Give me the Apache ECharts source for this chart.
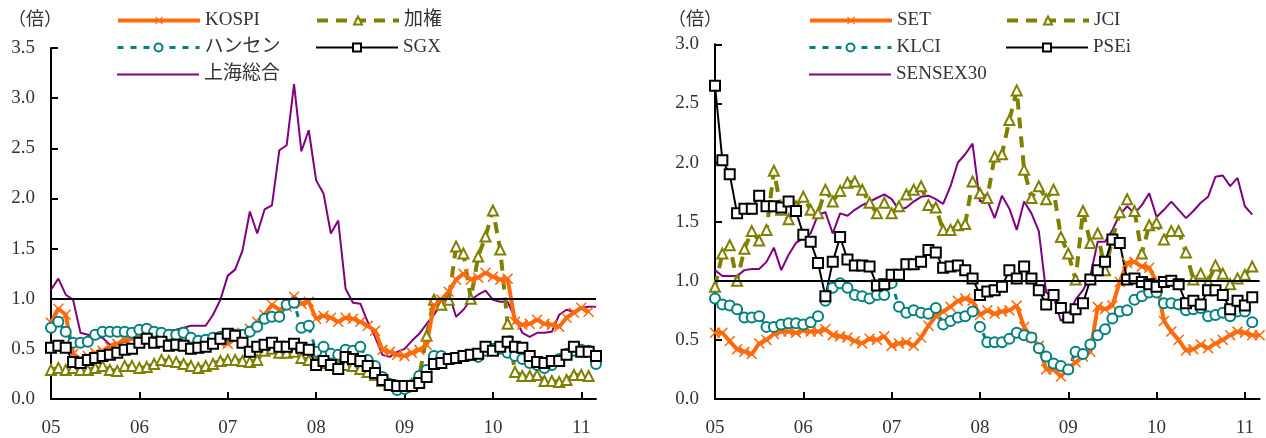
<!DOCTYPE html>
<html>
<head>
<meta charset="utf-8">
<script src="https://cdn.jsdelivr.net/npm/echarts@6/dist/echarts.min.js"></script>
<style>
html, body { margin: 0; padding: 0; background: #fff; }
#container { width: 1266px; height: 438px; }
</style>
</head>
<body>
<div id="container"></div>
<script>
const container = document.getElementById('container');
const chartIns = echarts.init(container, undefined, { renderer: 'canvas' });

// 月次カテゴリ 2005/01 - 2011/03
const months = [];
for (let i = 0; i < 75; i++) {
  const y = 2005 + Math.floor(i / 12);
  const m = (i % 12) + 1;
  months.push(y + '-' + (m < 10 ? '0' + m : m));
}

// 左パネル（倍）
const kospi = [0.76,0.90,0.84,0.45,0.40,0.43,0.46,0.48,0.52,0.55,0.59,0.60,0.62,0.64,0.66,0.64,0.62,0.60,0.58,0.57,0.56,0.55,0.55,0.56,0.55,0.60,0.66,0.70,0.77,0.84,0.94,0.89,0.92,1.02,0.95,0.97,0.80,0.83,0.81,0.77,0.81,0.80,0.77,0.73,0.68,0.49,0.47,0.44,0.43,0.46,0.49,0.54,0.94,0.99,1.07,1.19,1.25,1.19,1.21,1.26,1.22,1.19,1.20,0.77,0.74,0.75,0.79,0.75,0.74,0.72,0.81,0.86,0.91,0.87,null];
const taiex = [0.29,0.31,0.29,0.31,0.29,0.29,0.31,0.33,0.29,0.28,0.33,0.33,0.31,0.32,0.35,0.39,0.38,0.37,0.35,0.33,0.31,0.33,0.35,0.38,0.39,0.39,0.38,0.37,0.39,0.48,0.50,0.46,0.46,0.47,0.41,0.39,0.37,0.36,0.35,0.34,0.34,0.33,0.30,0.27,0.24,0.18,0.15,0.13,0.12,0.15,0.22,0.63,0.99,0.94,0.99,1.52,1.45,1.00,1.42,1.62,1.88,1.49,0.75,0.27,0.23,0.23,0.24,0.18,0.18,0.17,0.19,0.24,0.24,0.23,null];
const hangseng = [0.71,0.77,0.67,0.56,0.56,0.57,0.64,0.67,0.67,0.67,0.67,0.66,0.69,0.70,0.67,0.66,0.64,0.64,0.66,0.61,0.58,0.59,0.61,0.62,0.63,0.64,0.64,0.67,0.72,0.80,0.82,0.82,0.94,0.96,0.71,0.73,0.47,0.52,0.45,0.44,0.49,0.48,0.52,0.39,0.33,0.22,0.15,0.09,0.10,0.14,0.23,0.29,0.43,0.43,0.40,0.41,0.43,0.44,0.42,0.48,0.50,0.50,0.46,0.43,0.40,0.36,0.34,0.31,0.34,0.40,0.45,0.48,0.49,0.48,0.35];
const sgx = [0.51,0.53,0.51,0.37,0.36,0.39,0.41,0.43,0.44,0.46,0.49,0.50,0.56,0.60,0.56,0.57,0.53,0.54,0.53,0.50,0.51,0.52,0.55,0.60,0.65,0.63,0.56,0.47,0.52,0.54,0.56,0.52,0.52,0.55,0.51,0.49,0.34,0.38,0.34,0.30,0.42,0.40,0.38,0.33,0.26,0.19,0.14,0.13,0.13,0.13,0.16,0.22,0.35,0.36,0.40,0.41,0.43,0.44,0.45,0.52,0.48,0.52,0.57,0.52,0.51,0.43,0.37,0.36,0.38,0.38,0.44,0.52,0.47,0.47,0.43];
const shanghai = [1.09,1.20,1.04,0.99,0.66,0.64,0.62,0.61,0.54,0.55,0.57,0.60,0.62,0.64,0.65,0.66,0.68,0.69,0.71,0.73,0.73,0.73,0.84,0.99,1.23,1.29,1.48,1.87,1.65,1.89,1.93,2.48,2.53,3.14,2.47,2.68,2.18,2.05,1.65,1.78,1.10,0.96,0.95,0.77,0.62,0.44,0.42,0.47,0.50,0.58,0.65,0.75,0.84,0.95,1.06,0.82,0.89,0.99,1.04,1.08,0.99,0.97,0.97,0.81,0.66,0.62,0.66,0.66,0.67,0.84,0.89,0.87,0.91,0.92,0.92];

// 右パネル（倍）
const setIdx = [0.56,0.56,0.49,0.42,0.40,0.38,0.47,0.50,0.55,0.57,0.57,0.56,0.58,0.57,0.57,0.59,0.54,0.53,0.52,0.49,0.47,0.51,0.50,0.53,0.45,0.47,0.48,0.45,0.52,0.62,0.70,0.74,0.78,0.83,0.85,0.83,0.71,0.75,0.72,0.74,0.75,0.79,0.61,0.52,0.45,0.25,0.25,0.19,0.26,0.31,0.36,0.40,0.78,0.76,0.79,0.99,1.15,1.16,1.12,1.11,0.99,0.66,0.57,0.50,0.41,0.42,0.46,0.43,0.47,0.50,0.54,0.57,0.56,0.54,0.54];
const jci = [0.95,1.23,1.30,1.00,1.27,1.42,1.34,1.43,1.93,1.60,1.52,1.63,1.71,1.60,1.57,1.77,1.67,1.76,1.83,1.84,1.77,1.66,1.57,1.66,1.57,1.63,1.73,1.77,1.80,1.64,1.62,1.43,1.43,1.47,1.48,1.84,1.74,1.70,2.05,2.07,2.36,2.61,1.94,1.70,1.80,1.69,1.77,1.37,1.23,1.01,1.59,1.32,1.40,1.09,1.35,1.58,1.69,1.59,1.23,1.47,1.49,1.35,1.42,1.42,1.24,1.01,1.06,0.99,1.13,1.06,0.97,1.02,1.05,1.12,null];
const klci = [0.85,0.80,0.79,0.76,0.69,0.69,0.70,0.61,0.61,0.63,0.64,0.64,0.63,0.65,0.70,0.83,0.94,0.98,0.94,0.88,0.87,0.85,0.88,0.88,0.98,0.78,0.73,0.75,0.73,0.72,0.77,0.63,0.66,0.69,0.70,0.74,0.61,0.48,0.48,0.48,0.51,0.56,0.54,0.52,0.43,0.36,0.30,0.28,0.25,0.40,0.38,0.46,0.54,0.59,0.68,0.74,0.75,0.84,0.87,0.90,0.90,0.81,0.81,0.80,0.75,0.76,0.77,0.70,0.71,0.73,0.70,0.74,0.74,0.65,null];
const psei = [2.65,2.02,1.90,1.57,1.61,1.61,1.72,1.63,1.63,1.62,1.67,1.59,1.39,1.33,1.15,0.87,1.16,1.37,1.18,1.13,1.13,1.12,0.96,0.97,1.05,1.05,1.14,1.14,1.16,1.26,1.24,1.11,1.12,1.13,1.09,1.02,0.88,0.91,0.92,0.95,1.09,1.02,1.12,1.02,0.92,0.80,0.88,0.77,0.69,0.76,0.81,1.01,1.09,1.16,1.35,1.32,1.01,1.02,0.99,0.97,0.95,0.99,1.00,0.97,0.81,0.83,0.80,0.92,0.92,0.88,0.76,0.83,0.79,0.86,null];
const sensex = [1.09,1.04,1.04,1.04,1.09,1.10,1.10,1.16,1.28,1.09,1.22,1.32,1.36,1.40,1.56,1.58,1.40,1.57,1.55,1.60,1.64,1.67,1.70,1.73,1.69,1.60,1.62,1.67,1.71,1.72,1.69,1.65,1.80,2.00,2.07,2.16,1.67,1.68,1.53,1.72,1.61,1.43,1.67,1.57,1.42,0.90,0.87,0.66,0.71,0.84,0.92,1.04,1.33,1.33,1.43,1.56,1.63,1.57,1.64,1.74,1.54,1.60,1.67,1.60,1.53,1.59,1.66,1.71,1.88,1.89,1.80,1.87,1.63,1.56,null];

const FONT = '"Liberation Serif", "Noto Sans CJK JP", serif';
const TEXT = '#333';
const ORANGE = '#ff6a0d';
const OLIVE = '#808000';
const TEAL = '#008080';
const PURPLE = '#800080';
const crossPath = 'path://M1,0 L5,4 L9,0 L10,1 L6,5 L10,9 L9,10 L5,6 L1,10 L0,9 L4,5 L0,1 Z';

const styles = {
  orange: { symbol: crossPath, symbolSize: 11, lineStyle: { color: ORANGE, width: 4 }, itemStyle: { color: ORANGE } },
  olive: { symbol: 'emptyTriangle', symbolSize: 10, lineStyle: { color: OLIVE, width: 4, type: [11, 8] }, itemStyle: { color: OLIVE, borderWidth: 2 } },
  teal: { symbol: 'emptyCircle', symbolSize: 10, lineStyle: { color: TEAL, width: 3, type: [6, 7] }, itemStyle: { color: TEAL, borderWidth: 2 } },
  black: { symbol: 'emptyRect', symbolSize: 10, lineStyle: { color: '#000', width: 2 }, itemStyle: { color: '#000', borderWidth: 2 } },
  purple: { symbol: 'none', lineStyle: { color: PURPLE, width: 2 }, itemStyle: { color: PURPLE } }
};

function makeSeries(name, data, style, idx) {
  return Object.assign({
    name: name,
    type: 'line',
    xAxisIndex: idx,
    yAxisIndex: idx,
    data: data,
    showAllSymbol: true,
    animation: false,
    silent: true
  }, JSON.parse(JSON.stringify(style)));
}

function oneLine(idx) {
  return {
    type: 'line', xAxisIndex: idx, yAxisIndex: idx, data: [], silent: true,
    markLine: {
      silent: true, symbol: 'none', animation: false,
      label: { show: false },
      lineStyle: { color: '#000', width: 2, type: 'solid' },
      data: [{ yAxis: 1 }]
    }
  };
}

function xAxis(idx) {
  return {
    type: 'category', gridIndex: idx, data: months, boundaryGap: false,
    axisLine: { lineStyle: { color: '#000', width: 2 } },
    axisTick: { inside: true, length: 7, lineStyle: { width: 2 }, interval: function (i) { return i % 12 === 0; } },
    axisLabel: {
      interval: function (i) { return i % 12 === 0; },
      formatter: function (v) { return v.slice(2, 4); },
      margin: 20, fontSize: 19, fontFamily: FONT, color: TEXT
    },
    splitLine: { show: false }
  };
}

function yAxis(idx, max) {
  return {
    type: 'value', gridIndex: idx, min: 0, max: max, interval: 0.5,
    axisLine: { show: true, lineStyle: { color: '#000', width: 2 } },
    axisTick: { show: true, inside: true, length: 7, lineStyle: { width: 2 } },
    axisLabel: { formatter: function (v) { return v.toFixed(1); }, margin: 16, fontSize: 19, fontFamily: FONT, color: TEXT },
    splitLine: { show: false }
  };
}

function legendAt(name, left, top, lineOnly) {
  const item = lineOnly ? { name: name, itemStyle: { opacity: 0 } } : { name: name };
  return {
    data: [item], left: left, top: top, padding: 0, itemGap: 0,
    itemWidth: 82, itemHeight: 10, selectedMode: false,
    lineStyle: { width: 'inherit' },
    itemStyle: { borderWidth: 'inherit' },
    textStyle: { fontSize: 19, fontFamily: FONT, color: TEXT }
  };
}

const option = {
  animation: false,
  backgroundColor: '#fff',
  grid: [
    { left: 51, top: 48, width: 545, height: 351.5 },
    { left: 715, top: 44.3, width: 544.6, height: 355 }
  ],
  xAxis: [xAxis(0), xAxis(1)],
  yAxis: [yAxis(0, 3.5), yAxis(1, 3.0)],
  legend: [
    legendAt('KOSPI', 116, 11), legendAt('加権', 315, 11),
    legendAt('ハンセン', 116, 38), legendAt('SGX', 315, 38),
    legendAt('上海総合', 116, 65, true),
    legendAt('SET', 808, 11), legendAt('JCI', 1005, 11),
    legendAt('KLCI', 808, 38), legendAt('PSEi', 1005, 38),
    legendAt('SENSEX30', 808, 65, true)
  ],
  graphic: [
    { type: 'text', left: 8, top: 11, style: { text: '（倍）', font: '18px ' + FONT, fill: TEXT } },
    { type: 'text', left: 668, top: 11, style: { text: '（倍）', font: '18px ' + FONT, fill: TEXT } }
  ],
  series: [
    oneLine(0),
    makeSeries('上海総合', shanghai, styles.purple, 0),
    makeSeries('加権', taiex, styles.olive, 0),
    makeSeries('KOSPI', kospi, styles.orange, 0),
    makeSeries('ハンセン', hangseng, styles.teal, 0),
    makeSeries('SGX', sgx, styles.black, 0),
    oneLine(1),
    makeSeries('SENSEX30', sensex, styles.purple, 1),
    makeSeries('JCI', jci, styles.olive, 1),
    makeSeries('SET', setIdx, styles.orange, 1),
    makeSeries('KLCI', klci, styles.teal, 1),
    makeSeries('PSEi', psei, styles.black, 1)
  ]
};

chartIns.setOption(option);
</script>
</body>
</html>
